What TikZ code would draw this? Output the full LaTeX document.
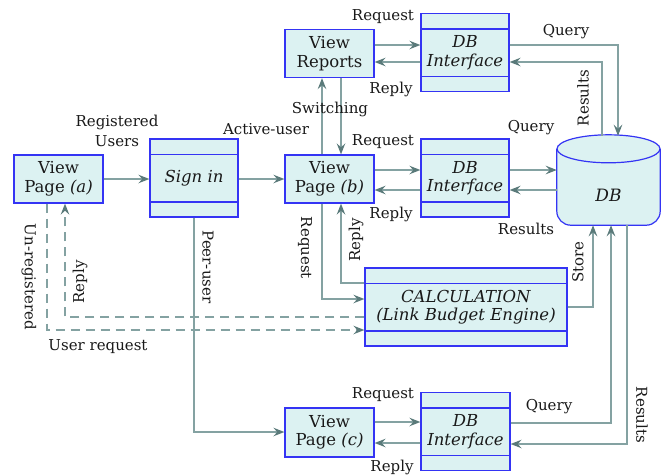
\documentclass[tikz,border=0pt]{standalone}
\usepackage{fontspec}
\setmainfont{DejaVu Serif}
\usetikzlibrary{arrows.meta,calc}
\definecolor{boxblue}{HTML}{3434F4}
\definecolor{boxfill}{HTML}{DCF2F2}
\definecolor{arrc}{HTML}{84A2A2}
\definecolor{arrdark}{HTML}{5A7A7A}
\tikzset{
  every node/.style={text=black!90},
  boxfont/.style={font=\fontsize{16.5}{18.5}\selectfont},
  box/.style={boxfont, draw=boxblue, fill=boxfill, line width=1.2pt, minimum width=89pt, minimum height=48pt, inner sep=0pt, align=center},
  tribox/.style={boxfont, draw=boxblue, fill=boxfill, line width=1.2pt, minimum width=88pt, minimum height=78pt, inner sep=0pt, align=center,
    path picture={
      \draw[boxblue, line width=1.2pt] ([yshift=-15.5pt]path picture bounding box.north west) -- ([yshift=-15.5pt]path picture bounding box.north east);
      \draw[boxblue, line width=1.2pt] ([yshift=15pt]path picture bounding box.south west) -- ([yshift=15pt]path picture bounding box.south east);
    }},
  cyl/.style={draw=boxblue, fill=boxfill, line width=1.2pt},
  arr/.style={draw=arrc, line width=2.7pt, -{Stealth[length=11pt,width=8.5pt,inset=4pt,color=arrdark]}},
  dsh/.style={arr, dash pattern=on 9pt off 6pt},
  lbl/.style={inner sep=0pt, align=center, font=\fontsize{15}{20}\selectfont},
}
\begin{document}
\begin{tikzpicture}[x=1pt,y=-1pt]
\useasboundingbox (0,0) rectangle (667,475);
% nodes
\node[box] (vpa) at (58.5,179) {View\\Page \textit{(a)}};
\node[tribox] (signin) at (194,178) {\textit{Sign in}};
\node[box] (vpb) at (329.5,179) {View\\Page \textit{(b)}};
\node[box] (vr) at (329.5,53.5) {View\\Reports};
\node[tribox] (dbt) at (465,52.5) {\textit{DB}\\\textit{Interface}};
\node[tribox] (dbm) at (465,178) {\textit{DB}\\\textit{Interface}};
\node[tribox, minimum width=202pt] (calc) at (466,307) {\textit{CALCULATION}\\\textit{(Link Budget Engine)}};
\node[box, minimum height=49pt] (vpc) at (329.5,432.5) {View\\Page \textit{(c)}};
\node[tribox, minimum width=89pt] (dbb) at (465.5,431.5) {\textit{DB}\\\textit{Interface}};
% DB cylinder
\node[minimum width=103pt, minimum height=90pt, inner sep=0pt] (db) at (608.5,180) {};
\path[cyl, rounded corners=14pt]
  ([yshift=-14pt]db.north west) -- (db.south west) -- (db.south east) -- ([yshift=-14pt]db.north east);
\path[cyl] ([yshift=-14pt]db.north) ellipse [x radius=51.5pt, y radius=14pt];
\node[font=\fontsize{17}{19}\selectfont\itshape] (dbtxt) at ([yshift=-15pt]db.center) {DB};
% connectors
\draw[arr] (vpa.east) -- (vpa.east -| signin.west);
\draw[arr] (vpb.west -| signin.east) -- (vpb.west);
\draw[arr] (vpb.east |- 0,170) -- (dbm.west |- 0,170);
\draw[arr] (dbm.west |- 0,190) -- (vpb.east |- 0,190);
\draw[arr] (dbm.east |- 0,170) -- (db.west |- 0,170);
\draw[arr] (db.west |- 0,190) -- (dbm.east |- 0,190);
\draw[arr] (vr.east |- 0,45) -- (dbt.west |- 0,45);
\draw[arr] (dbt.west |- 0,62) -- (vr.east |- 0,62);
\draw[arr] (dbt.east |- 0,45) -| ([xshift=9.5pt,yshift=-1pt]db.north);
\draw[arr] ([xshift=-6.5pt, yshift=-1pt]db.north) |- (dbt.east |- 0,62);
\draw[arr] ([xshift=-7.5pt]vpb.north) -- ([xshift=-7.5pt]vr.south);
\draw[arr] ([xshift=11.5pt]vr.south) -- ([xshift=11.5pt]vpb.north);
\draw[arr] ([xshift=-7.5pt]vpb.south) |- (calc.west |- 0,299);
\draw[arr] (calc.west |- 0,283) -| ([xshift=11.5pt]vpb.south);
\draw[arr] (calc.east |- 0,307) -| ([xshift=-15.5pt]db.south);
\draw[arr] (dbb.east |- 0,423) -| ([xshift=2.5pt]db.south);
\draw[arr] ([xshift=18.5pt]db.south) |- (dbb.east |- 0,444);
\draw[arr] (vpc.east |- 0,422) -- (dbb.west |- 0,422);
\draw[arr] (dbb.west |- 0,443) -- (vpc.east |- 0,443);
\draw[arr] (signin.south) |- (vpc.west |- 0,432);
\draw[dsh] ([xshift=-11.5pt]vpa.south) |- (calc.west |- 0,330);
\draw[dsh] (calc.west |- 0,317) -| ([xshift=6.5pt]vpa.south);
% labels
\node[lbl] (l1) at (117,131) {Registered\\Users};
\node[lbl] (l2) at (266,129) {Active-user};
\node[lbl] (l3) at (330,109) {Switching};
\node[lbl] (l4) at (383,17) {Request};
\node[lbl] (l5) at (391,89) {Reply};
\node[lbl] (l6) at (566,32) {Query};
\node[lbl, rotate=90] (l7) at (583,98) {Results};
\node[lbl] (l8) at (383,142) {Request};
\node[lbl] (l9) at (531,128) {Query};
\node[lbl] (l10) at (391,214) {Reply};
\node[lbl] (l11) at (526,229) {Results};
\node[lbl, rotate=-90] (l12) at (305,248) {Request};
\node[lbl, rotate=90] (l13) at (356,240) {Reply};
\node[lbl, rotate=90] (l14) at (578,262) {Store};
\node[lbl, rotate=-90] (l15) at (208,267) {Peer-user};
\node[lbl, rotate=-90] (l16) at (29,277) {Un-registered};
\node[lbl, rotate=90] (l17) at (80,282) {Reply};
\node[lbl] (l18) at (98,347) {User request};
\node[lbl] (l19) at (383,395) {Request};
\node[lbl] (l20) at (549,407) {Query};
\node[lbl] (l21) at (392,467) {Reply};
\node[lbl, rotate=-90] (l22) at (642,415) {Results};
\end{tikzpicture}
\end{document}
